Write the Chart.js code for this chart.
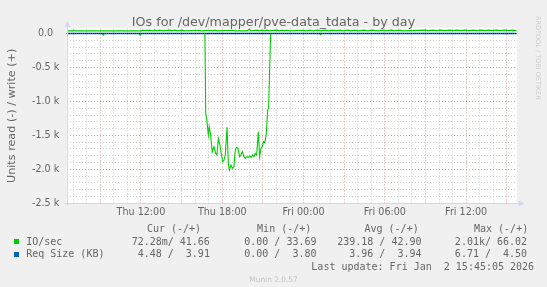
<!DOCTYPE html>
<html>
<head>
<meta charset="utf-8">
<script src="https://cdn.jsdelivr.net/npm/chart.js@4/dist/chart.umd.min.js"></script>
<style>
  html, body { margin: 0; padding: 0; background: #F0F0F0; }
  #wrap { position: relative; width: 547px; height: 287px; overflow: hidden; }
  #c { position: absolute; left: 0; top: 0; }
  .t { position: absolute; white-space: pre; color: #666; line-height: 12px; }
  .mono { font-family: "DejaVu Sans Mono", monospace; font-size: 10px; }
  .box { position: absolute; width: 5px; height: 5px; }
</style>
</head>
<body>
<div id="wrap">
  <canvas id="c" width="547" height="287"></canvas>
</div>
<script>
// ---- data (hours counted from Thu 00:00) ----
const titleText = "IOs for /dev/mapper/pve-data_tdata - by day";
const yTitle = "Units read (-) / write (+)";

// IO/sec read (plotted negative)
const readHours = [6.52, 9.14, 9.22, 9.30, 11.85, 11.93, 12.01, 16.72, 16.78, 16.85, 16.97, 17.04, 17.14, 17.26, 17.39, 17.51, 17.61, 17.71, 17.83, 17.90, 18.03, 18.13, 18.22, 18.35, 18.45, 18.52, 18.64, 18.74, 18.86, 18.96, 19.06, 19.16, 19.28, 19.38, 19.48, 19.60, 19.70, 19.82, 19.92, 20.04, 20.14, 20.24, 20.34, 20.44, 20.54, 20.66, 20.76, 20.86, 20.95, 21.05, 21.15, 21.25, 21.35, 21.42, 21.57, 25.18, 25.26, 25.34, 39.73];
const readIO = [0, 0, 25, 0, 0, 28, 0, 0, 1180, 1250, 1495, 1373, 1495, 1740, 1667, 1765, 1789, 1544, 1642, 1740, 1887, 1863, 1789, 1382, 1912, 2010, 1936, 1985, 1961, 1716, 1676, 1691, 1814, 1789, 1740, 1814, 1838, 1814, 1824, 1804, 1824, 1789, 1814, 1765, 1789, 1446, 1814, 1691, 1667, 1593, 1608, 1471, 1127, 1103, 0, 0, 18, 0, 0];

// IO/sec write (plotted positive)
const writeHours = [6.52, 6.95, 7.06, 7.17, 12.05, 12.15, 12.30, 12.44, 12.55, 12.66, 12.85, 13.03, 13.20, 13.40, 13.60, 14.14, 14.30, 14.51, 14.70, 15.03, 15.20, 16.28, 16.45, 17.09, 17.30, 17.46, 17.60, 18.79, 18.95, 19.85, 19.97, 20.10, 20.56, 20.75, 20.93, 21.10, 21.30, 21.50, 22.04, 22.20, 22.41, 22.60, 22.77, 22.95, 23.96, 24.15, 24.47, 24.70, 25.06, 25.30, 25.58, 25.80, 26.17, 26.40, 26.69, 26.90, 27.28, 27.50, 27.79, 28.00, 28.46, 28.70, 29.12, 29.40, 29.86, 30.10, 30.45, 30.70, 31.12, 31.30, 32.96, 33.20, 33.55, 33.80, 34.14, 34.40, 34.81, 35.00, 35.32, 35.60, 35.91, 36.20, 36.50, 36.80, 37.09, 37.40, 37.68, 37.90, 38.27, 38.50, 38.86, 39.10, 39.45, 39.73];
const writeIO = [38, 38, 50, 38, 38, 50, 40, 50, 40, 50, 40, 50, 40, 50, 40, 50, 40, 50, 40, 50, 40, 48, 40, 48, 40, 48, 40, 48, 40, 40, 66, 40, 50, 40, 50, 40, 50, 40, 50, 40, 50, 40, 50, 40, 48, 40, 48, 40, 50, 40, 50, 40, 50, 40, 50, 40, 50, 40, 50, 40, 50, 40, 50, 40, 50, 40, 50, 40, 50, 40, 50, 42, 50, 42, 50, 42, 50, 42, 50, 42, 50, 42, 50, 42, 50, 42, 50, 42, 50, 42, 50, 42, 50, 42];

// Req Size (KB)
const reqHours = [6.52, 16.72, 21.57, 39.73];
const reqRead = [3.96, 4.2, 3.9, 4.48];
const reqWrite = [3.94, 3.9, 3.95, 3.91];

// axes
const xGridHours = [7, 8, 9, 10, 11, 12, 13, 14, 15, 16, 17, 18, 19, 20, 21, 22, 23, 24, 25, 26, 27, 28, 29, 30, 31, 32, 33, 34, 35, 36, 37, 38, 39];
const xLabelHours = [12, 18, 24, 30, 36];
const xLabels = ["Thu 12:00", "Thu 18:00", "Fri 00:00", "Fri 06:00", "Fri 12:00"];
const yGrid = [-2500, -2400, -2300, -2200, -2100, -2000, -1900, -1800, -1700, -1600, -1500, -1400, -1300, -1200, -1100, -1000, -900, -800, -700, -600, -500, -400, -300, -200, -100, 0];
const yLabelValues = [0, -500, -1000, -1500, -2000, -2500];
const yLabels = ["0.0  ", "-0.5 k", "-1.0 k", "-1.5 k", "-2.0 k", "-2.5 k"];

// legend
const legendHeaders = ["Cur (-/+)", "Min (-/+)", "Avg (-/+)", "Max (-/+)"];
const legendNames = ["IO/sec", "Req Size (KB)"];
const legendColors = ["#00cc00", "#0066b3"];
const legendCur = ["72.28m/ 41.66", "4.48 /  3.91"];
const legendMin = ["0.00 / 33.69", "0.00 /  3.80"];
const legendAvg = ["239.18 / 42.90", "3.96 /  3.94"];
const legendMax = ["2.01k/ 66.02", "6.71 /  4.50"];
const lastUpdate = "Last update: Fri Jan  2 15:45:05 2026";
const versionText = "Munin 2.0.57";
const sideText = "RRDTOOL / TOBI OETIKER";

// ---- build ----
const pts = (xs, ys, sign) => xs.map((x, i) => ({ x: x, y: sign * ys[i] }));
const GREEN = "#00cc00", BLUE = "#0066b3";
const MAJOR = "#e0a0a0", MINOR = "#cfcfcf", AXIS = "#CFD6F8";

const muninPlugin = {
  id: "munin",
  beforeDraw(c) {
    const { ctx, chartArea: a } = c;
    ctx.save();
    ctx.fillStyle = "#ffffff";
    ctx.fillRect(a.left, a.top - 0.7, a.right - a.left, a.bottom - a.top + 0.7);
    ctx.restore();
  },
  afterDatasetsDraw(c) {
    const { ctx, chartArea: a, scales } = c;
    const y0 = Math.round(scales.y.getPixelForValue(0)) + 0.5;
    ctx.save();
    // zero line
    ctx.strokeStyle = "#000000";
    ctx.lineWidth = 1;
    ctx.setLineDash([1, 1]);
    ctx.beginPath();
    ctx.moveTo(a.left, y0);
    ctx.lineTo(a.right, y0);
    ctx.stroke();
    ctx.setLineDash([]);
    // axes
    const xl = Math.round(a.left) + 0.5, yb = Math.round(a.bottom) + 0.5;
    ctx.strokeStyle = AXIS;
    ctx.beginPath();
    ctx.moveTo(xl, yb + 2);
    ctx.lineTo(xl, a.top - 3);
    ctx.moveTo(xl - 3, yb);
    ctx.lineTo(a.right + 3, yb);
    ctx.stroke();
    ctx.fillStyle = AXIS;
    ctx.beginPath();
    ctx.moveTo(xl, a.top - 7.5);
    ctx.lineTo(xl - 3, a.top - 1.5);
    ctx.lineTo(xl + 3, a.top - 1.5);
    ctx.closePath();
    ctx.fill();
    ctx.beginPath();
    ctx.moveTo(a.right + 8, yb);
    ctx.lineTo(a.right + 2, yb - 3);
    ctx.lineTo(a.right + 2, yb + 3);
    ctx.closePath();
    ctx.fill();
    ctx.restore();
  }
};

const line = (data, color, w) => ({
  data: data, borderColor: color, borderWidth: w, pointRadius: 0, tension: 0, fill: false
});

new Chart(document.getElementById("c"), {
  type: "line",
  data: {
    datasets: [
      line(pts(readHours, readIO, -1), GREEN, 1.1),
      line(pts(writeHours, writeIO, 1), GREEN, 1.2),
      line(pts(reqHours, reqRead, -1), BLUE, 1),
      line(pts(reqHours, reqWrite, 1), BLUE, 1)
    ]
  },
  options: {
    responsive: false,
    animation: false,
    events: [],
    layout: { padding: { left: 0, right: 30.3, top: 28.4, bottom: 0 } },
    plugins: {
      legend: { display: false },
      tooltip: { enabled: false },
      title: { display: false }
    },
    scales: {
      x: {
        type: "linear", min: 6.52, max: 39.73,
        afterBuildTicks: (s) => { s.ticks = xGridHours.map(v => ({ value: v })); },
        afterFit: (s) => { s.height = 83.7; },
        grid: {
          color: (ctx) => (ctx.tick && ctx.tick.value % 3 === 0) ? MAJOR : MINOR,
          lineWidth: 1, drawTicks: false
        },
        border: { display: false, dash: [1, 2] },
        ticks: {
          autoSkip: false, maxRotation: 0, padding: 3, color: "#666",
          font: { family: "DejaVu Sans", size: 9.6 },
          callback: (v) => { const i = xLabelHours.indexOf(Math.round(v)); return (i >= 0 && Math.abs(v - Math.round(v)) < 1e-6) ? xLabels[i] : ""; }
        }
      },
      y: {
        type: "linear", min: -2500, max: 75,
        afterBuildTicks: (s) => { s.ticks = yGrid.map(v => ({ value: v })); },
        afterFit: (s) => { s.width = 66.7; },
        grid: {
          color: (ctx) => (ctx.tick && ctx.tick.value % 500 === 0) ? MAJOR : MINOR,
          lineWidth: 1, drawTicks: false
        },
        border: { display: false, dash: [1, 2] },
        title: {
          display: true, text: yTitle, color: "#666",
          font: { family: "DejaVu Sans", size: 11.2 },
          padding: { top: 5, bottom: 0 }
        },
        ticks: {
          autoSkip: false, padding: 7.4, color: "#666",
          font: { family: "DejaVu Sans", size: 9.6 },
          callback: (v) => { const i = yLabelValues.indexOf(Math.round(v)); return i >= 0 ? yLabels[i] : ""; }
        }
      }
    }
  },
  plugins: [muninPlugin]
});

// ---- title / legend / texts as HTML ----
const wrap = document.getElementById("wrap");
function addText(txt, cls, style) {
  const d = document.createElement("div");
  d.className = "t " + cls;
  d.textContent = txt;
  Object.assign(d.style, style);
  wrap.appendChild(d);
  return d;
}
addText(titleText, "", { left: "0px", width: "547px", textAlign: "center", top: "13.5px", lineHeight: "15px", fontFamily: "DejaVu Sans", fontSize: "12.7px" });
const headerLefts = [146.9, 257.1, 364.5, 474.0];
legendHeaders.forEach((h, i) => addText(h, "mono", { left: headerLefts[i] + "px", top: "223.3px" }));
const rowTops = [235.8, 248.3];
const colRights = [209.9, 316.5, 421.5, 527.1];
legendNames.forEach((n, r) => {
  const b = document.createElement("div");
  b.className = "box";
  Object.assign(b.style, { left: "13.7px", top: (rowTops[r] + 3.5) + "px", background: legendColors[r] });
  wrap.appendChild(b);
  addText(n, "mono", { left: "26.2px", top: rowTops[r] + "px" });
  [legendCur, legendMin, legendAvg, legendMax].forEach((col, c) => {
    addText(col[r], "mono", { right: (547 - colRights[c]) + "px", top: rowTops[r] + "px", textAlign: "right" });
  });
});
addText(lastUpdate, "mono", { right: (547 - 534.1) + "px", top: "260.8px", textAlign: "right" });
addText(versionText, "", { left: "0px", width: "547px", textAlign: "center", top: "274px", fontFamily: "DejaVu Sans", fontSize: "7.4px", color: "#c4c4c4" });
addText(sideText, "", { left: "533px", top: "16px", writingMode: "vertical-rl", fontFamily: "DejaVu Sans", fontSize: "6.5px", color: "#cccccc", lineHeight: "9px" });
</script>
</body>
</html>
